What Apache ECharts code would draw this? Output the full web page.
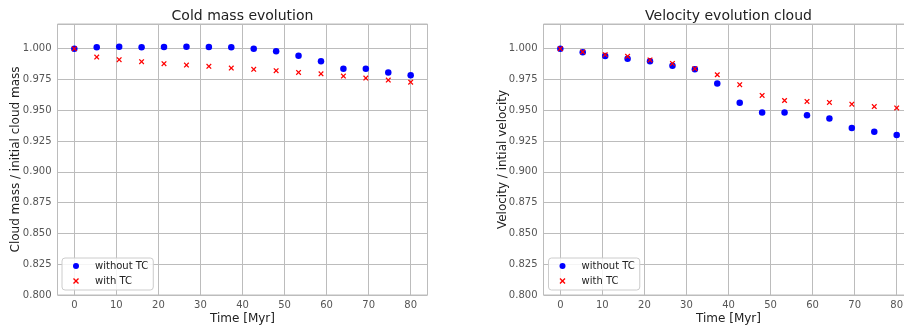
<!DOCTYPE html>
<html>
<head>
<meta charset="utf-8">
<title>Cloud evolution</title>
<script src="https://cdn.jsdelivr.net/npm/echarts@6/dist/echarts.min.js"></script>
<style>
  html, body { margin: 0; padding: 0; background: #ffffff; }
  #chart { width: 904px; height: 325px; }
</style>
</head>
<body>
<div id="chart"></div>
<script>
// Simulation output times (Myr)
const timeMyr = [0, 5.33, 10.67, 16, 21.33, 26.67, 32, 37.33, 42.67, 48, 53.33, 58.67, 64, 69.33, 74.67, 80];

// Cold mass normalised by the initial cloud mass
const massWithoutTC = [1.000, 1.0011, 1.0016, 1.0011, 1.0014, 1.0016, 1.0014, 1.0011, 1.0000, 0.9978, 0.9943, 0.9897, 0.9837, 0.9837, 0.9807, 0.9783];
const massWithTC    = [1.000, 0.9932, 0.9910, 0.9894, 0.9878, 0.9867, 0.9856, 0.9842, 0.9832, 0.9821, 0.9807, 0.9796, 0.9777, 0.9761, 0.9745, 0.9728];

// Cloud velocity normalised by the initial velocity
const velWithoutTC = [1.000, 0.9970, 0.9940, 0.9918, 0.9897, 0.9861, 0.9832, 0.9717, 0.9560, 0.9481, 0.9481, 0.9459, 0.9432, 0.9356, 0.9326, 0.9299];
const velWithTC    = [1.000, 0.9973, 0.9951, 0.9938, 0.9908, 0.9880, 0.9837, 0.9788, 0.9707, 0.9620, 0.9579, 0.9571, 0.9563, 0.9549, 0.9530, 0.9519];

const seriesNames = ['without TC', 'with TC'];
const panelTitles = ['Cold mass evolution', 'Velocity evolution cloud'];
const yAxisNames = ['Cloud mass / initial cloud mass', 'Velocity / intial velocity'];
const xAxisName = 'Time [Myr]';

const FONT = 'DejaVu Sans';
const GRID_COLOR = '#bcbcbc';
const CROSS = 'path://M0,1.6 L1.6,0 L5,3.4 L8.4,0 L10,1.6 L6.6,5 L10,8.4 L8.4,10 L5,6.6 L1.6,10 L0,8.4 L3.4,5 Z';

const zip = (xs, ys) => xs.map((x, i) => [x, ys[i]]);

const panels = [
  { left: 57.5, without: massWithoutTC, withTC: massWithTC },
  { left: 543.5, without: velWithoutTC, withTC: velWithTC }
];

const grid = panels.map(p => ({
  left: p.left, top: 24, width: 370, height: 271,
  outerBoundsMode: 'none', containLabel: false,
  show: true, borderColor: GRID_COLOR, borderWidth: 1, backgroundColor: '#ffffff'
}));

const xAxis = panels.map((p, i) => ({
  type: 'value', gridIndex: i, min: -4, max: 84, splitNumber: 9,
  name: xAxisName, nameLocation: 'middle', nameGap: 18, nameMoveOverlap: false,
  nameTextStyle: { fontFamily: FONT, fontSize: 12, color: '#222' },
  axisLine: { show: false }, axisTick: { show: false },
  axisLabel: { fontFamily: FONT, fontSize: 10, color: '#555', margin: 5, showMinLabel: false, showMaxLabel: false },
  splitLine: { show: true, lineStyle: { color: GRID_COLOR, width: 1 } }
}));

const yAxis = panels.map((p, i) => ({
  type: 'value', gridIndex: i, min: 0.8, max: 1.02, interval: 0.025,
  name: yAxisNames[i], nameLocation: 'middle', nameGap: i === 0 ? 36 : 35, nameMoveOverlap: false,
  nameTextStyle: { fontFamily: FONT, fontSize: 12, color: '#222' },
  axisLine: { show: false }, axisTick: { show: false },
  axisLabel: {
    fontFamily: FONT, fontSize: 10, color: '#555', margin: 6, showMaxLabel: false,
    formatter: v => v.toFixed(3)
  },
  splitLine: { show: true, lineStyle: { color: GRID_COLOR, width: 1 } }
}));

const series = [];
panels.forEach((p, i) => {
  series.push({
    name: seriesNames[0], type: 'scatter', xAxisIndex: i, yAxisIndex: i,
    symbol: 'circle', symbolSize: 6.5,
    itemStyle: { color: '#0000ff', opacity: 1 },
    data: zip(timeMyr, p.without), z: 3
  });
  series.push({
    name: seriesNames[1], type: 'scatter', xAxisIndex: i, yAxisIndex: i,
    symbol: CROSS, symbolSize: 5.5,
    itemStyle: { color: '#ff0000', opacity: 1 },
    data: zip(timeMyr, p.withTC), z: 4
  });
});

const legend = panels.map((p, i) => ({
  orient: 'vertical', left: i === 0 ? 62 : 548.5, top: 258,
  padding: [3, 5, 4, 11], itemGap: 5, itemWidth: 6, itemHeight: 6,
  backgroundColor: 'rgba(255,255,255,0.85)', borderColor: '#cccccc', borderWidth: 1, borderRadius: 3,
  selectedMode: false,
  textStyle: { fontFamily: FONT, fontSize: 10, color: '#222', padding: [0, 0, 0, 11] },
  data: [
    { name: seriesNames[0], icon: 'circle' },
    { name: seriesNames[1], icon: CROSS }
  ]
}));

const title = panels.map((p, i) => ({
  text: panelTitles[i], left: p.left + 185, top: 9, textAlign: 'center', padding: 0,
  textStyle: { fontFamily: FONT, fontSize: 14, fontWeight: 'normal', color: '#222' }
}));

const chart = echarts.init(document.getElementById('chart'), null, { renderer: 'canvas' });
chart.setOption({
  animation: false,
  backgroundColor: '#ffffff',
  title, grid, xAxis, yAxis, legend, series
});
</script>
</body>
</html>
